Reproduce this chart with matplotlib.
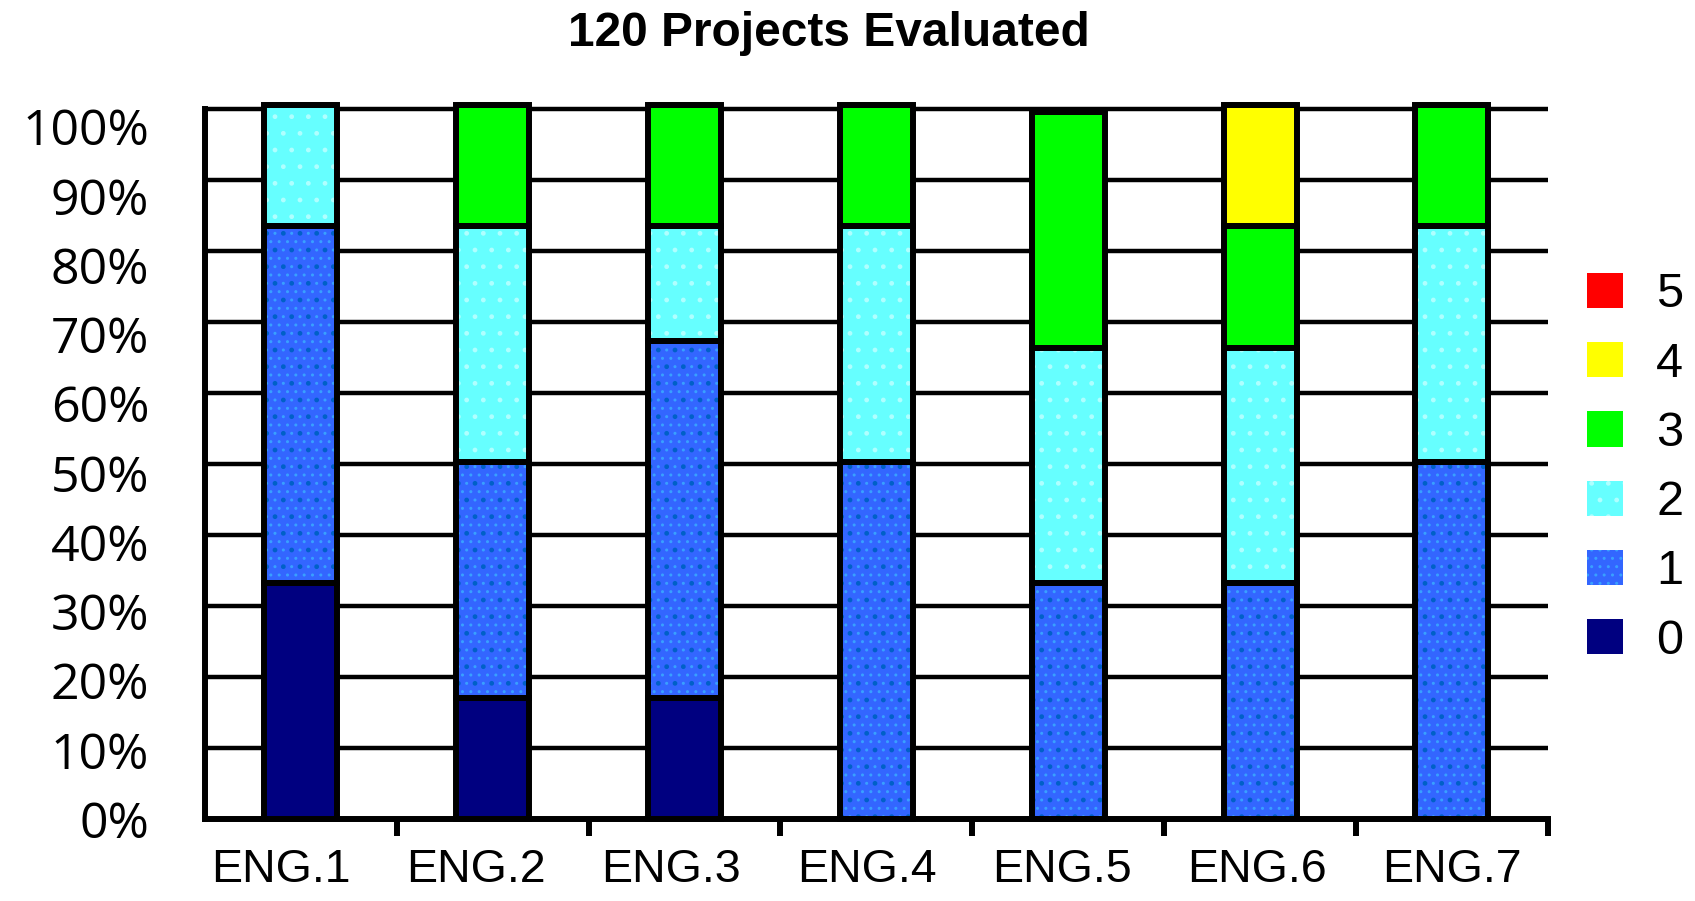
import matplotlib
matplotlib.use("Agg")
import matplotlib.pyplot as plt
import matplotlib.patches as mpatches
import numpy as np

# Dados (% de projetos por nota, por engenheiro)
engenheiros = ["ENG.1", "ENG.2", "ENG.3", "ENG.4", "ENG.5", "ENG.6", "ENG.7"]
niveis = ["0", "1", "2", "3", "4", "5"]
nota_0 = [33, 17, 17, 0, 0, 0, 0]
nota_1 = [50, 33, 50, 50, 33, 33, 50]
nota_2 = [17, 33, 16, 33, 33, 33, 33]
nota_3 = [0, 17, 17, 17, 33, 17, 17]
nota_4 = [0, 0, 0, 0, 0, 17, 0]
nota_5 = [0, 0, 0, 0, 0, 0, 0]
y_ticks = [0, 10, 20, 30, 40, 50, 60, 70, 80, 90, 100]
titulo = "120 Projects Evaluated"

series = [nota_0, nota_1, nota_2, nota_3, nota_4, nota_5]

# Estilo (cor, hachura clara, hachura escura)
_CORES = ["#000080", "#3366FF", "#66FFFF", "#00FF00", "#FFFF00", "#FF0000"]
_HATCH = [None, "..", ".", None, None, None]
_HATCH_COR = ["none", "#39A0FF", "#B0FFFF", "none", "none", "none"]
_HATCH2 = [None, ".", None, None, None, None]
_HATCH2_COR = ["none", "#0060C8", "none", "none", "none", "none"]

LW = 4.3
POS = [0.1209, 0.0910, 0.7923, 0.7948]
# escalas levemente diferentes para grade, barras e rótulos (como no original)
YTOP_GRADE = 100.9
YTOP_BARRA = 100.3

fig = plt.figure(figsize=(16.95, 9.01), dpi=100)

# eixo só para os rótulos
ax_lab = fig.add_axes(POS)
ax_lab.set_xlim(-0.389, 6.489)
ax_lab.set_ylim(0.432, (YTOP_GRADE + 0.423) / 0.9795)
ax_lab.set_yticks(y_ticks)
ax_lab.set_yticklabels([f"{v}%" for v in y_ticks], family="Open Sans", fontsize=36)
ax_lab.set_xticks(np.arange(len(engenheiros)))
ax_lab.set_xticklabels(engenheiros, family="Liberation Sans", fontsize=33.5)
ax_lab.tick_params(axis="y", length=0, pad=40)
ax_lab.tick_params(axis="x", length=0, pad=21)
for s in ax_lab.spines.values():
    s.set_visible(False)
ax_lab.patch.set_visible(False)

# eixo da grade / eixos
ax_g = fig.add_axes(POS)
ax_g.patch.set_visible(False)
ax_g.set_xlim(-0.5, 6.5)
ax_g.set_ylim(0, YTOP_GRADE)
ax_g.set_yticks(y_ticks)
ax_g.set_yticklabels([])
ax_g.set_xticks([])
ax_g.set_xticks(np.arange(0.5, 7, 1), minor=True)
ax_g.tick_params(axis="x", which="minor", length=12, width=LW, direction="out",
                 labelbottom=False)
ax_g.tick_params(axis="y", length=0)
ax_g.grid(axis="y", color="black", linewidth=3.2)
for lado in ["top", "right"]:
    ax_g.spines[lado].set_visible(False)
ax_g.spines["left"].set_linewidth(LW)
ax_g.spines["bottom"].set_linewidth(LW)
ax_g.spines["left"].set_bounds(0, 100)

# eixo das barras
ax = fig.add_axes(POS)
ax.set_axis_off()
x = np.arange(len(engenheiros))
base = np.zeros(len(engenheiros))
for vals, cor, h, hc, h2, hc2 in zip(series, _CORES, _HATCH, _HATCH_COR,
                                     _HATCH2, _HATCH2_COR):
    vals = np.array(vals, dtype=float)
    ax.bar(x, vals, bottom=base, width=0.38, color=cor, edgecolor=hc,
           hatch=h, linewidth=0, zorder=2)
    if h2:
        ax.bar(x, vals, bottom=base, width=0.38, fill=False, edgecolor=hc2,
               hatch=h2, linewidth=0, zorder=2.5)
    ax.bar(x, vals, bottom=base, width=0.38, fill=False, edgecolor="black",
           linewidth=LW, zorder=3, clip_on=False)
    base += vals
ax.set_xlim(-0.5, 6.5)
ax.set_ylim(0, YTOP_BARRA)

# legenda (ordem invertida: 5 no topo)
handles = [
    mpatches.Patch(facecolor=c, edgecolor=hc, hatch=h, linewidth=0)
    for c, h, hc in zip(_CORES, _HATCH, _HATCH_COR)
][::-1]
fig.legend(handles, niveis[::-1], loc="center left",
           bbox_to_anchor=(0.9363, 0.4806), frameon=False,
           prop={"family": "Liberation Sans", "size": 35},
           handlelength=0.74, handleheight=0.74, handletextpad=0.68,
           labelspacing=0.5, borderpad=0, borderaxespad=0)

fig.text(0.489, 1 - 33 / 901, titulo, ha="center", va="center",
         family="Liberation Sans", fontsize=34.5, fontweight="bold")

fig.savefig("out.png", dpi=100)
plt.close(fig)
